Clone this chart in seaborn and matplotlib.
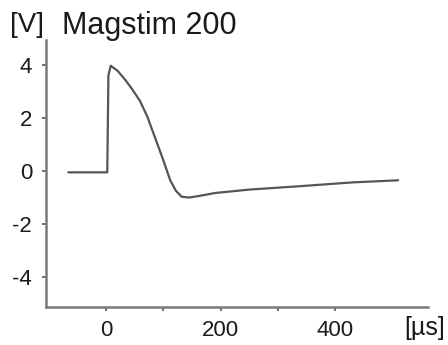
import matplotlib
matplotlib.use("Agg")
import matplotlib.pyplot as plt
import seaborn as sns
import pandas as pd

# Data (time in µs, voltage in V)
time_us = [-66, 2, 4, 8, 20, 33, 45, 59, 72, 89, 100, 112, 122, 132, 145, 160, 190, 250, 340, 430, 510]
voltage = [-0.05, -0.05, 3.6, 3.97, 3.78, 3.45, 3.1, 2.65, 2.05, 1.05, 0.4, -0.35, -0.75, -0.97, -1.0, -0.95, -0.83, -0.7, -0.57, -0.43, -0.35]
x_ticks = [0, 100, 200, 300, 400]
x_tick_labels = ["0", "", "200", "", "400"]
y_ticks = [-4, -2, 0, 2, 4]
y_tick_labels = ["-4", "-2", "0", "2", "4"]
title = "Magstim 200"
y_unit = "[V]"
x_unit = "[µs]"

sns.set_theme(style="white")
plt.rcParams['font.family'] = ['Liberation Sans', 'DejaVu Sans']

df = pd.DataFrame({"t": time_us, "v": voltage})

fig = plt.figure(figsize=(4.48, 3.45), dpi=100)
ax = fig.add_axes([0.1027, 0.110, 0.955 - 0.1027, 0.884 - 0.110])

sns.lineplot(data=df, x="t", y="v", ax=ax, color="#555555", linewidth=1.6, sort=False)

ax.set_xlim(-105, 562)
ax.set_ylim(-5.13, 4.94)
ax.set_xticks(x_ticks)
ax.set_xticklabels(x_tick_labels)
ax.set_yticks(y_ticks)
ax.set_yticklabels(y_tick_labels)
ax.set_xlabel("")
ax.set_ylabel("")

for s in ["top", "right"]:
    ax.spines[s].set_visible(False)
for s in ["left", "bottom"]:
    ax.spines[s].set_color("#7a7a7a")
    ax.spines[s].set_linewidth(1.8)

ax.tick_params(axis="both", which="both", direction="out", length=3, width=1.2,
               color="#555555", labelsize=16, labelcolor="#1a1a1a",
               bottom=True, left=True)
ax.tick_params(axis="x", pad=6)
ax.tick_params(axis="y", pad=7)

H = 345.0
W = 448.0
fig.text(62 / W, 1 - 11 / H, title, fontsize=22, color="#1a1a1a", ha="left", va="top")
fig.text(10 / W, 1 - 12 / H, y_unit, fontsize=20, color="#1a1a1a", ha="left", va="top")
fig.text(404 / W, 1 - 316 / H, x_unit, fontsize=18, color="#1a1a1a", ha="left", va="top")

fig.savefig("out.png", dpi=100)
